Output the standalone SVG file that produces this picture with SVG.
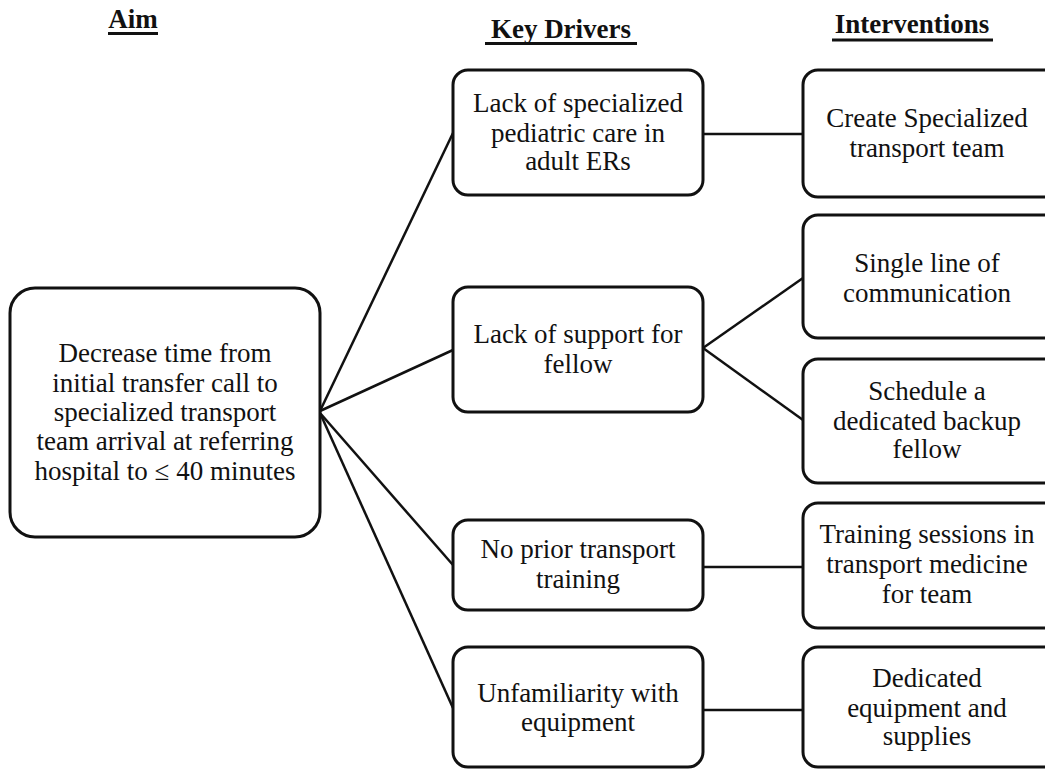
<svg xmlns="http://www.w3.org/2000/svg" width="1045" height="771" viewBox="0 0 1045 771">
<style>
.box{fill:#fff;stroke:#111;stroke-width:3}
.t{font-family:"Liberation Serif","Times New Roman",serif;font-size:27px;fill:#111;text-anchor:middle}
.h{font-family:"Liberation Serif","Times New Roman",serif;font-size:27px;font-weight:bold;fill:#111;text-anchor:middle}
.ul{stroke:#111;stroke-width:3}
.c{stroke:#111;stroke-width:2.5;fill:none}
</style>
<rect width="1045" height="771" fill="#fff"/>
<g id="headings">
<text class="h" x="133" y="28">Aim</text>
<line class="ul" x1="108" y1="33.5" x2="158" y2="33.5"/>
<text class="h" x="561" y="38">Key Drivers</text>
<line class="ul" x1="485" y1="43.5" x2="637" y2="43.5"/>
<text class="h" x="912" y="33">Interventions</text>
<line class="ul" x1="832" y1="40" x2="993" y2="40"/>
</g>
<g id="connectors">
<line class="c" x1="320" y1="411" x2="453" y2="133"/>
<line class="c" x1="320" y1="411" x2="453" y2="350"/>
<line class="c" x1="320" y1="413" x2="453" y2="565"/>
<line class="c" x1="320" y1="413" x2="453" y2="708"/>
<line class="c" x1="703" y1="134" x2="803" y2="134"/>
<line class="c" x1="703" y1="348" x2="803" y2="278"/>
<line class="c" x1="703" y1="348" x2="803" y2="420"/>
<line class="c" x1="703" y1="567" x2="803" y2="567"/>
<line class="c" x1="703" y1="710" x2="803" y2="710"/>
</g>
<g id="aim">
<rect class="box" x="10" y="288" width="310" height="249" rx="25"/>
<text class="t" x="165" y="362">Decrease time from</text>
<text class="t" x="165" y="392">initial transfer call to</text>
<text class="t" x="165" y="421">specialized transport</text>
<text class="t" x="165" y="450">team arrival at referring</text>
<text class="t" x="165" y="480">hospital to ≤ 40 minutes</text>
</g>
<g id="driver1">
<rect class="box" x="453" y="70" width="250" height="125" rx="15"/>
<text class="t" x="578" y="112">Lack of specialized</text>
<text class="t" x="578" y="142">pediatric care in</text>
<text class="t" x="578" y="170">adult ERs</text>
</g>
<g id="driver2">
<rect class="box" x="453" y="287" width="250" height="125" rx="15"/>
<text class="t" x="578" y="343">Lack of support for</text>
<text class="t" x="578" y="373">fellow</text>
</g>
<g id="driver3">
<rect class="box" x="453" y="520" width="250" height="90" rx="15"/>
<text class="t" x="578" y="558">No prior transport</text>
<text class="t" x="578" y="588">training</text>
</g>
<g id="driver4">
<rect class="box" x="453" y="647" width="250" height="120" rx="15"/>
<text class="t" x="578" y="702">Unfamiliarity with</text>
<text class="t" x="578" y="731">equipment</text>
</g>
<g id="intervention1">
<rect class="box" x="803" y="70" width="260" height="127" rx="15"/>
<text class="t" x="927" y="127">Create Specialized</text>
<text class="t" x="927" y="157">transport team</text>
</g>
<g id="intervention2">
<rect class="box" x="803" y="215" width="260" height="123" rx="15"/>
<text class="t" x="927" y="272">Single line of</text>
<text class="t" x="927" y="302">communication</text>
</g>
<g id="intervention3">
<rect class="box" x="803" y="359" width="260" height="124" rx="15"/>
<text class="t" x="927" y="400">Schedule a</text>
<text class="t" x="927" y="430">dedicated backup</text>
<text class="t" x="927" y="458">fellow</text>
</g>
<g id="intervention4">
<rect class="box" x="803" y="503" width="260" height="125" rx="15"/>
<text class="t" x="927" y="543">Training sessions in</text>
<text class="t" x="927" y="573">transport medicine</text>
<text class="t" x="927" y="603">for team</text>
</g>
<g id="intervention5">
<rect class="box" x="803" y="647" width="260" height="120" rx="15"/>
<text class="t" x="927" y="687">Dedicated</text>
<text class="t" x="927" y="717">equipment and</text>
<text class="t" x="927" y="745">supplies</text>
</g>
</svg>
